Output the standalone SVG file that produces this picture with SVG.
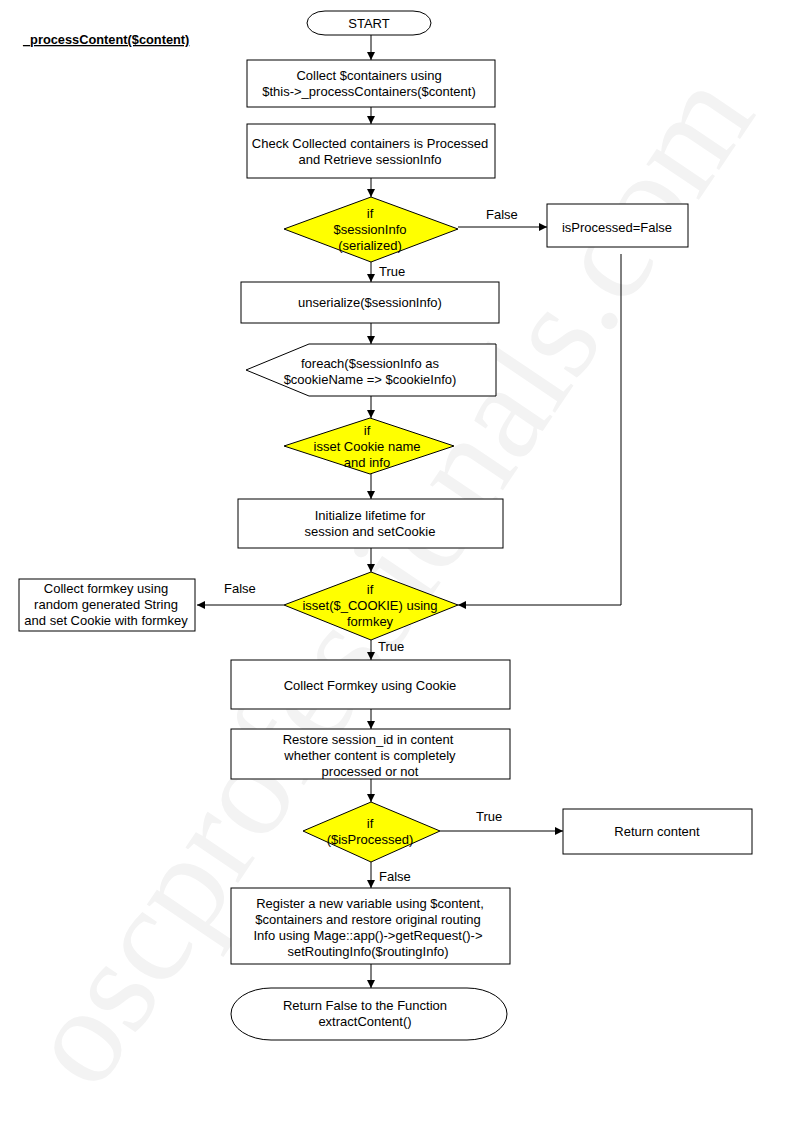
<svg xmlns="http://www.w3.org/2000/svg" width="794" height="1123" viewBox="0 0 794 1123">
<style>
.bg{fill:#ffffff}
.box{fill:#ffffff;stroke:#000000;stroke-width:1}
.term{fill:#ffffff;stroke:#000000;stroke-width:1}
.dec{fill:#ffff00;stroke:#000000;stroke-width:1}
.t{font-family:"Liberation Sans",Arial,sans-serif;font-size:13px;fill:#000000;text-anchor:middle}
.lbl{font-family:"Liberation Sans",Arial,sans-serif;font-size:13px;fill:#000000}
.title{font-family:"Liberation Sans",Arial,sans-serif;font-size:12.8px;font-weight:bold;fill:#000000;text-decoration:underline}
.wm{font-family:"Liberation Serif","Times New Roman",serif;font-size:138px;fill:#f3f3f3}
.ln{fill:none;stroke:#000000;stroke-width:1}
</style>
<defs>
<marker id="arr" viewBox="0 0 10 10" refX="10" refY="5" markerWidth="8" markerHeight="8" markerUnits="userSpaceOnUse" orient="auto">
<path d="M0,0 L10,5 L0,10 z" fill="#000000"/>
</marker>
</defs>
<rect class="bg" x="0" y="0" width="794" height="1123"/>
<text class="wm" transform="translate(95,1095) rotate(-56)">oscprofessionals.com</text>
<text class="title" x="23" y="44">_processContent($content)</text>

<g id="connectors">
<line class="ln" x1="371" y1="35" x2="371" y2="60" marker-end="url(#arr)"/>
<line class="ln" x1="371" y1="107" x2="371" y2="124" marker-end="url(#arr)"/>
<line class="ln" x1="371" y1="178" x2="371" y2="197" marker-end="url(#arr)"/>
<line class="ln" x1="458" y1="227" x2="547" y2="227" marker-end="url(#arr)"/>
<text class="lbl" x="486" y="219">False</text>
<line class="ln" x1="371" y1="262" x2="371" y2="282" marker-end="url(#arr)"/>
<text class="lbl" x="379" y="276">True</text>
<polyline class="ln" points="621,254 621,605 458,605" marker-end="url(#arr)"/>
<line class="ln" x1="371" y1="323" x2="371" y2="344" marker-end="url(#arr)"/>
<line class="ln" x1="371" y1="396" x2="371" y2="418" marker-end="url(#arr)"/>
<line class="ln" x1="371" y1="474" x2="371" y2="499" marker-end="url(#arr)"/>
<line class="ln" x1="371" y1="548" x2="371" y2="572" marker-end="url(#arr)"/>
<line class="ln" x1="284" y1="605" x2="197" y2="605" marker-end="url(#arr)"/>
<text class="lbl" x="224" y="593">False</text>
<line class="ln" x1="371" y1="640" x2="371" y2="660" marker-end="url(#arr)"/>
<text class="lbl" x="378" y="651">True</text>
<line class="ln" x1="371" y1="709" x2="371" y2="729" marker-end="url(#arr)"/>
<line class="ln" x1="371" y1="779" x2="371" y2="802" marker-end="url(#arr)"/>
<line class="ln" x1="440" y1="831" x2="563" y2="831" marker-end="url(#arr)"/>
<text class="lbl" x="476" y="821">True</text>
<line class="ln" x1="371" y1="862" x2="371" y2="888" marker-end="url(#arr)"/>
<text class="lbl" x="379" y="881">False</text>
<line class="ln" x1="371" y1="964" x2="371" y2="988" marker-end="url(#arr)"/>
</g>

<g id="start">
<rect class="term" x="307" y="11" width="124" height="24" rx="18" ry="12"/>
<text class="t" x="369" y="28">START</text>
</g>
<g id="collect-containers">
<rect class="box" x="247" y="60" width="248" height="47"/>
<text class="t" x="369" y="80">Collect $containers using</text>
<text class="t" x="369" y="96">$this-&gt;_processContainers($content)</text>
</g>
<g id="check-processed">
<rect class="box" x="247" y="124" width="248" height="54"/>
<text class="t" x="370" y="148">Check Collected containers is Processed</text>
<text class="t" x="370" y="164">and Retrieve sessionInfo</text>
</g>
<g id="if-serialized">
<polygon class="dec" points="371,197 458,229 371,262 284,229"/>
<text class="t" x="370" y="218">if</text>
<text class="t" x="370" y="234">$sessionInfo</text>
<text class="t" x="370" y="250">(serialized)</text>
</g>
<g id="is-processed-false">
<rect class="box" x="547" y="204" width="141" height="43"/>
<text class="t" x="617" y="232">isProcessed=False</text>
</g>
<g id="unserialize">
<rect class="box" x="241" y="282" width="258" height="41"/>
<text class="t" x="370" y="307">unserialize($sessionInfo)</text>
</g>
<g id="foreach">
<polygon class="box" points="309,344 496,344 496,396 309,396 246,370"/>
<text class="t" x="370" y="368">foreach($sessionInfo as</text>
<text class="t" x="370" y="384">$cookieName =&gt; $cookieInfo)</text>
</g>
<g id="if-isset-cookie">
<polygon class="dec" points="370,418 454,446 370,474 284,446"/>
<text class="t" x="367" y="435">if</text>
<text class="t" x="367" y="451">isset Cookie name</text>
<text class="t" x="367" y="467">and info</text>
</g>
<g id="init-lifetime">
<rect class="box" x="238" y="499" width="265" height="49"/>
<text class="t" x="370" y="520">Initialize lifetime for</text>
<text class="t" x="370" y="536">session and setCookie</text>
</g>
<g id="if-cookie-formkey">
<polygon class="dec" points="371,572 458,605 371,640 284,605"/>
<text class="t" x="370" y="594">if</text>
<text class="t" x="370" y="610">isset($_COOKIE) using</text>
<text class="t" x="370" y="626">formkey</text>
</g>
<g id="collect-formkey-random">
<rect class="box" x="19" y="579" width="176" height="52"/>
<text class="t" x="106" y="593">Collect formkey using</text>
<text class="t" x="106" y="609">random generated String</text>
<text class="t" x="106" y="625">and set Cookie with formkey</text>
</g>
<g id="collect-formkey-cookie">
<rect class="box" x="231" y="660" width="279" height="49"/>
<text class="t" x="370" y="690">Collect Formkey using Cookie</text>
</g>
<g id="restore-session">
<rect class="box" x="231" y="729" width="279" height="50"/>
<text class="t" x="368" y="744">Restore session_id in content</text>
<text class="t" x="370" y="760">whether content is completely</text>
<text class="t" x="370" y="776">processed or not</text>
</g>
<g id="if-is-processed">
<polygon class="dec" points="371,802 440,831 371,862 303,831"/>
<text class="t" x="370" y="828">if</text>
<text class="t" x="370" y="844">($isProcessed)</text>
</g>
<g id="return-content">
<rect class="box" x="563" y="809" width="189" height="45"/>
<text class="t" x="657" y="836">Return content</text>
</g>
<g id="register-variable">
<rect class="box" x="231" y="888" width="279" height="76"/>
<text class="t" x="370" y="908">Register a new variable using $content,</text>
<text class="t" x="368" y="924">$containers and restore original routing</text>
<text class="t" x="368" y="940">Info using Mage::app()-&gt;getRequest()-&gt;</text>
<text class="t" x="368" y="956">setRoutingInfo($routingInfo)</text>
</g>
<g id="end">
<rect class="term" x="231" y="988" width="276" height="52" rx="40" ry="26"/>
<text class="t" x="365" y="1010">Return False to the Function</text>
<text class="t" x="365" y="1026">extractContent()</text>
</g>
</svg>
